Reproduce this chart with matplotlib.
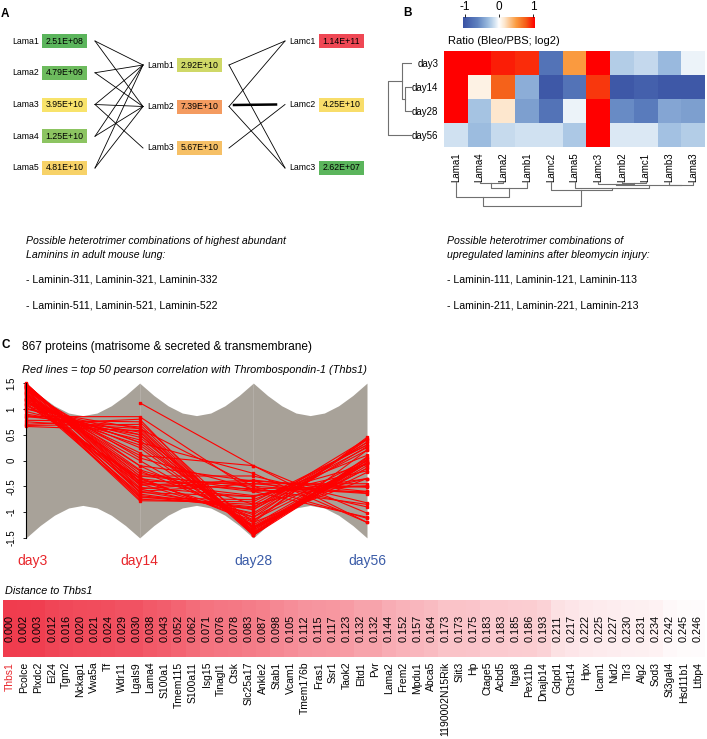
import matplotlib
matplotlib.use('Agg')
import matplotlib.pyplot as plt
import numpy as np
from matplotlib.colors import LinearSegmentedColormap, TwoSlopeNorm, Normalize
from matplotlib.patches import Rectangle
from matplotlib.transforms import ScaledTranslation

plt.rcParams['font.family'] = ['Liberation Sans', 'DejaVu Sans']

# ---- panel A: laminin chain abundances in adult lung
alpha_chains = ['Lama1', 'Lama2', 'Lama3', 'Lama4', 'Lama5']
alpha_abundance = [2.51e8, 4.79e9, 3.95e10, 1.25e10, 4.81e10]
beta_chains = ['Lamb1', 'Lamb2', 'Lamb3']
beta_abundance = [2.92e10, 7.39e10, 5.67e10]
gamma_chains = ['Lamc1', 'Lamc2', 'Lamc3']
gamma_abundance = [1.14e11, 4.25e10, 2.62e7]
alpha_beta_pairs = [(0, 0), (0, 1), (1, 0), (1, 1), (2, 0), (2, 1), (2, 2),
                    (3, 0), (3, 1), (4, 0), (4, 1)]
beta_gamma_pairs = [(0, 0), (0, 2), (1, 0), (1, 2), (2, 1)]
beta_gamma_main = [(1, 1)]

lung_text = ['Possible heterotrimer combinations of highest abundant',
             'Laminins in adult mouse lung:',
             '- Laminin-311, Laminin-321, Laminin-332',
             '- Laminin-511, Laminin-521, Laminin-522']
bleo_text = ['Possible heterotrimer combinations of',
             'upregulated laminins after bleomycin injury:',
             '- Laminin-111, Laminin-121, Laminin-113',
             '- Laminin-211, Laminin-221, Laminin-213']

# ---- panel B: log2 ratio heatmap
heat_days = ['day3', 'day14', 'day28', 'day56']
heat_genes = ['Lama1', 'Lama4', 'Lama2', 'Lamb1', 'Lamc2', 'Lama5',
              'Lamc3', 'Lamb2', 'Lamc1', 'Lamb3', 'Lama3']
heat_day3 = [1.0, 1.0, 0.92, 0.88, -0.72, 0.48, 1.0, -0.22, -0.17, -0.32, -0.05]
heat_day14 = [1.0, 0.08, 0.72, -0.38, -0.95, -0.72, 0.85, -0.95, -0.88, -0.95, -0.95]
heat_day28 = [1.0, -0.27, 0.15, -0.45, -0.72, -0.05, 1.0, -0.55, -0.65, -0.42, -0.45]
heat_day56 = [-0.13, -0.30, -0.16, -0.13, -0.13, -0.25, 1.0, -0.10, -0.10, -0.28, -0.22]
# (left, right, height) merges, leaves numbered in display order
row_merges = [(1, 2, 7.3), (0, 4, 10.0), (5, 3, 24.0)]
col_merges = [(1, 2, 1.3), (11, 3, 6.3), (0, 12, 15.3), (7, 8, 0.6),
              (6, 14, 1.6), (9, 10, 2.6), (15, 16, 3.3), (5, 17, 6.0),
              (4, 18, 7.6), (13, 19, 24.0)]

# ---- panel C: z-scored profiles, top 50 correlated with Thbs1
days = ['day3', 'day14', 'day28', 'day56']
day_colors = ['#e8262b', '#e8262b', '#3b5ca8', '#3b5ca8']
# outline of the 867 grey profiles between two neighbouring days
grey_envelope = [1.50, 1.26, 1.06, 0.92, 0.87, 0.92, 1.06, 1.26, 1.50]
red_day3 = [0.70, 0.85, 0.75, 0.88, 0.68, 0.90, 1.48, 1.47, 1.45, 1.49,
            1.50, 1.44, 1.30, 1.25, 1.20, 1.35, 1.28, 1.22, 1.33, 1.15,
            1.38, 1.00, 1.15, 1.20, 1.25, 1.05, 1.30, 1.12, 1.28, 1.08,
            1.10, 1.10, 1.20, 1.00, 1.40, 1.42, 1.35, np.nan, 0.85, 1.46,
            1.43, 1.40, 1.42, 1.18, 1.02, 0.95, 1.45, 1.38, 0.78, 0.66]
red_day14 = [0.80, 0.65, 0.62, 0.50, 0.70, 0.55, -0.40, -0.55, -0.35, -0.45,
             -0.60, -0.30, -0.75, -0.65, -0.70, -0.60, -0.78, -0.55, -0.68, -0.45,
             -0.72, 0.45, 0.25, 0.15, 0.00, 0.50, -0.10, 0.35, -0.20, -0.33,
             -0.35, 0.35, 0.10, 0.62, -0.10, -0.30, 0.05, 1.12, 0.85, -0.48,
             -0.25, -0.62, -0.52, -0.40, 0.30, 0.40, -0.42, -0.18, 0.75, 0.58]
red_day28 = [-1.45, -1.40, -1.42, -1.45, -1.38, -1.40, -0.45, -0.40, -0.60, -0.55,
             -0.45, -0.50, -0.85, -0.95, -0.92, -0.95, -0.80, -1.02, -0.90, -1.10,
             -0.76, -1.30, -1.35, -1.30, -1.25, -1.20, -1.15, -1.32, -1.10, -1.20,
             -1.17, -0.25, -0.10, -0.50, -0.40, -0.30, -0.55, -0.10, -0.60, -0.38,
             -0.58, -0.70, -0.70, -1.05, -1.28, -1.35, -0.68, -0.85, -1.30, -1.44]
red_day56 = [-0.05, -0.10, 0.05, 0.07, 0.00, -0.05, -0.63, -0.52, -0.50, -0.49,
             -0.45, -0.64, 0.30, 0.35, 0.42, 0.20, 0.30, 0.35, 0.25, 0.40,
             0.10, -0.15, -0.05, -0.05, 0.00, -0.35, -0.05, -0.15, 0.02, 0.45,
             0.42, -1.20, -1.20, -1.12, -0.90, -0.82, -0.85, -1.02, -1.10, -0.60,
             -0.60, -0.08, -0.20, 0.27, -0.04, 0.00, -0.35, -0.35, -0.23, 0.20]

# ---- distance strip
dist_genes = ['Thbs1', 'Pcolce', 'Plxdc2', 'Ei24', 'Tgm2', 'Nckap1', 'Vwa5a', 'Tf',
              'Wdr11', 'Lgals9', 'Lama4', 'S100a1', 'Tmem115', 'S100a11', 'Isg15',
              'Tinagl1', 'Ctsk', 'Slc25a17', 'Ankle2', 'Stab1', 'Vcam1', 'Tmem176b',
              'Fras1', 'Ssr1', 'Taok2', 'Eltd1', 'Pvr', 'Lama2', 'Frem2', 'Mpdu1',
              'Abca5', '1190002N15Rik', 'Slit3', 'Hp', 'Ctage5', 'Acbd5', 'Itga8',
              'Pex11b', 'Dnajb14', 'Gdpd1', 'Chst14', 'Hpx', 'Icam1', 'Nid2', 'Tlr3',
              'Alg2', 'Sod3', 'St3gal4', 'Hsd11b1', 'Ltbp4']
dist_values = [0.000, 0.002, 0.003, 0.012, 0.016, 0.020, 0.021, 0.024, 0.029, 0.030,
               0.038, 0.043, 0.052, 0.062, 0.071, 0.076, 0.078, 0.083, 0.087, 0.098,
               0.105, 0.112, 0.115, 0.117, 0.123, 0.132, 0.132, 0.144, 0.152, 0.157,
               0.164, 0.173, 0.173, 0.175, 0.183, 0.183, 0.185, 0.186, 0.193, 0.211,
               0.217, 0.222, 0.225, 0.227, 0.230, 0.231, 0.234, 0.242, 0.245, 0.246]

W, H = 707, 739
fig = plt.figure(figsize=(W / 100, H / 100), dpi=100)


def px_axes(x0, y0, x1, y1):
    return fig.add_axes([x0 / W, 1 - y1 / H, (x1 - x0) / W, (y1 - y0) / H])


def draw_tree(ax, merges, n, along_x, **kw):
    pos = {i: float(i) for i in range(n)}
    hgt = {i: 0.0 for i in range(n)}
    for k, (a, b, h) in enumerate(merges):
        p = [pos[a], pos[a], pos[b], pos[b]]
        q = [hgt[a], h, h, hgt[b]]
        if along_x:
            ax.plot(p, q, **kw)
        else:
            ax.plot(q, p, **kw)
        pos[n + k] = (pos[a] + pos[b]) / 2
        hgt[n + k] = h


# overlay in pixel units for panel A and free text
ax0 = px_axes(0, 0, W, H)
ax0.set_xlim(0, W)
ax0.set_ylim(H, 0)
ax0.axis('off')

for lab, x, y in [('A', 1, 14), ('B', 403, 13), ('C', 1, 345)]:
    ax0.text(x, y, lab, fontsize=8.5, fontweight='bold', va='center')

all_ab = alpha_abundance + beta_abundance + gamma_abundance
cmapA = LinearSegmentedColormap.from_list('gyr', ['#5bb55c', '#f8e46b', '#ef4754'])
normA = TwoSlopeNorm(vmin=min(all_ab), vcenter=float(np.median(all_ab)), vmax=max(all_ab))

ya = [41 + 31.75 * i for i in range(len(alpha_chains))]
yb = [65 + 41.5 * i for i in range(len(beta_chains))]
yc = [41 + 63.5 * i for i in range(len(gamma_chains))]


def node(names, values, ys, xbox):
    for nm, v, y in zip(names, values, ys):
        ax0.text(xbox - 3, y, nm, ha='right', va='center', fontsize=6.3)
        ax0.add_patch(Rectangle((xbox, y - 7), 45, 14, facecolor=cmapA(normA(v)),
                                edgecolor='none'))
        ax0.text(xbox + 22.5, y, '%.2E' % v, ha='center', va='center', fontsize=6.3)


node(alpha_chains, alpha_abundance, ya, 42)
node(beta_chains, beta_abundance, yb, 177)
node(gamma_chains, gamma_abundance, yc, 319)

for a, b in alpha_beta_pairs:
    ax0.plot([95, 143], [ya[a], yb[b]], color='black', lw=0.6)
for b, c in beta_gamma_pairs:
    ax0.plot([229, 285], [yb[b], yc[c]], color='black', lw=0.6)
for b, c in beta_gamma_main:
    ax0.plot([234, 276], [yb[b] - 1.5, yc[c]], color='black', lw=1.8)

line_y = [241, 255, 280, 305]
for i, line in enumerate(lung_text):
    ax0.text(26, line_y[i], line, fontsize=7.6, va='center',
             style='italic' if i < 2 else 'normal')
for i, line in enumerate(bleo_text):
    ax0.text(447, line_y[i], line, fontsize=7.6, va='center',
             style='italic' if i < 2 else 'normal')

ax0.text(22, 347, '867 proteins (matrisome & secreted & transmembrane)', fontsize=8.6,
         va='center')
ax0.text(22, 370, 'Red lines = top 50 pearson correlation with Thrombospondin-1 (Thbs1)',
         fontsize=7.9, style='italic', va='center')
ax0.text(5, 591, 'Distance to Thbs1', fontsize=7.8, style='italic', va='center')

# ---- panel B heatmap
cmapB = LinearSegmentedColormap.from_list('bwr2', [
    (0.0, '#3a53a4'), (0.2, '#5f82c0'), (0.35, '#9dbde0'), (0.44, '#d3e3f2'),
    (0.5, '#ffffff'), (0.58, '#fde6cc'), (0.74, '#fb9b40'),
    (0.88, '#f55a15'), (1.0, '#ff0000')])
heat = np.array([heat_day3, heat_day14, heat_day28, heat_day56])
axH = px_axes(444, 51, 705, 147)
axH.imshow(heat, cmap=cmapB, vmin=-1, vmax=1, aspect='auto', interpolation='nearest')
axH.set_yticks(range(len(heat_days)))
axH.set_yticklabels(heat_days, fontsize=7)
axH.set_xticks(range(len(heat_genes)))
axH.set_xticklabels(heat_genes, rotation=90, fontsize=7)
axH.tick_params(length=0, pad=4)
for s in axH.spines.values():
    s.set_visible(False)

axRD = px_axes(387, 51, 412, 147)
draw_tree(axRD, row_merges, 4, False, color='#707070', lw=0.8)
axRD.set_xlim(25, 0)
axRD.set_ylim(3.5, -0.5)
axRD.axis('off')

axCD = px_axes(444, 182, 705, 208)
draw_tree(axCD, col_merges, 11, True, color='#707070', lw=0.8)
axCD.set_xlim(-0.5, 10.5)
axCD.set_ylim(26, 0)
axCD.axis('off')

axCB = px_axes(463, 17, 535, 28)
axCB.imshow(np.linspace(-1, 1, 200)[None, :], cmap=cmapB, vmin=-1, vmax=1,
            aspect='auto', extent=(-1.06, 1.06, 0, 1))
axCB.set_xlim(-1.06, 1.06)
axCB.set_yticks([])
axCB.set_xticks([-1, 0, 1])
axCB.set_xticklabels(['-1', '0', '1'], fontsize=8.5)
axCB.xaxis.tick_top()
axCB.tick_params(length=2, width=0.6, pad=1)
for s in axCB.spines.values():
    s.set_visible(False)
ax0.text(448, 41, 'Ratio (Bleo/PBS; log2)', fontsize=8, va='center')

# ---- panel C parallel coordinates
axC = px_axes(26, 380, 367, 541)
grey = '#a8a299'
t = np.linspace(0, 1, len(grey_envelope))
env = np.array(grey_envelope)
for seg in range(len(days) - 1):
    axC.fill_between(seg + t, -env, env, color=grey, lw=0, clip_on=False)
xs = np.arange(len(days))
for p in zip(red_day3, red_day14, red_day28, red_day56):
    axC.plot(xs, p, color='#ff0000', lw=0.8, marker='s', ms=1.6, clip_on=False)
axC.set_xlim(0, 3)
axC.set_ylim(-1.56, 1.56)
for s in ['top', 'right', 'bottom']:
    axC.spines[s].set_visible(False)
axC.spines['left'].set_bounds(-1.5, 1.5)
axC.spines['left'].set_linewidth(0.8)
yt = [-1.5, -1, -0.5, 0, 0.5, 1, 1.5]
axC.set_yticks(yt)
axC.set_yticklabels(['%g' % v for v in yt], rotation=90, va='center', fontsize=7)
axC.tick_params(axis='y', length=2, width=0.6, pad=5)
axC.set_xticks(xs)
axC.set_xticklabels(days, fontsize=10)
axC.tick_params(axis='x', length=0, pad=9)
for lbl, c in zip(axC.get_xticklabels(), day_colors):
    lbl.set_color(c)
first = axC.get_xticklabels()[0]
first.set_transform(first.get_transform() + ScaledTranslation(0.06, 0, fig.dpi_scale_trans))

# ---- distance strip
axD = px_axes(3, 600, 705, 657)
cmapD = LinearSegmentedColormap.from_list('rw', ['#f03c4e', '#ffffff'])
axD.imshow(np.array([dist_values]), cmap=cmapD, norm=Normalize(0, 0.25),
           aspect='auto', interpolation='nearest',
           extent=(-0.5, len(dist_values) - 0.5, 1, 0))
for i, v in enumerate(dist_values):
    axD.text(i, 0.5, '%.3f' % v, rotation=90, ha='center', va='center', fontsize=7.8)
axD.set_xlim(-0.5, len(dist_values) - 0.5)
axD.set_yticks([])
axD.set_xticks(range(len(dist_genes)))
axD.set_xticklabels(dist_genes, rotation=90, fontsize=7.5)
axD.tick_params(length=0, pad=3.5)
axD.get_xticklabels()[0].set_color('#e8262b')
for s in axD.spines.values():
    s.set_visible(False)

fig.savefig('out.png', dpi=100)
